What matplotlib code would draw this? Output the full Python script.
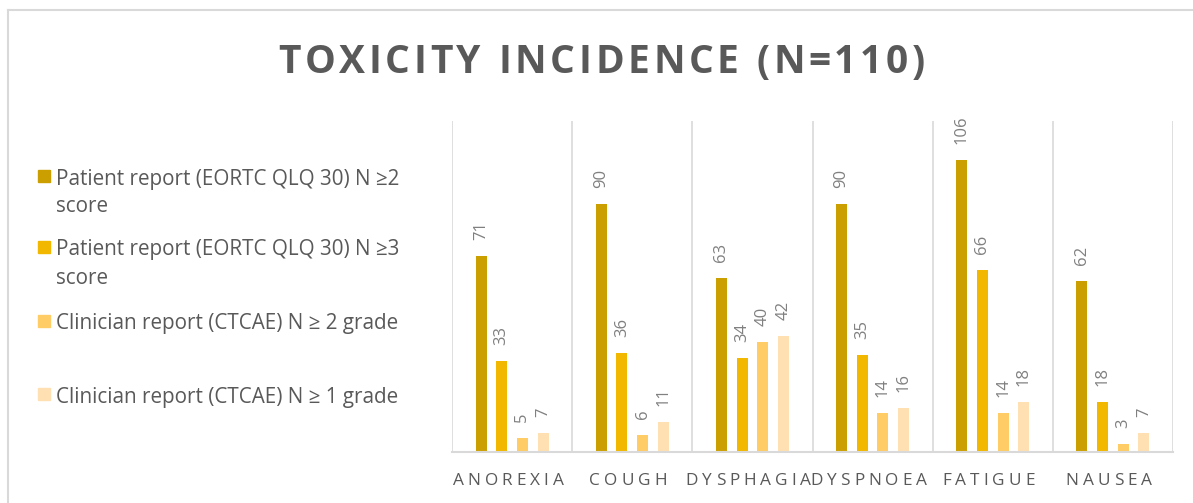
import matplotlib
matplotlib.use("Agg")
import matplotlib.pyplot as plt
from matplotlib.font_manager import FontProperties
from matplotlib.lines import Line2D
from matplotlib.patches import Rectangle
import numpy as np

# ---- data ----
categories = ["ANOREXIA", "COUGH", "DYSPHAGIA", "DYSPNOEA", "FATIGUE", "NAUSEA"]
series_names = [
    "Patient report (EORTC QLQ 30) N \u22652\nscore",
    "Patient report (EORTC QLQ 30) N \u22653\nscore",
    "Clinician report (CTCAE) N \u2265 2 grade",
    "Clinician report (CTCAE) N \u2265 1 grade",
]
patient_ge2 = [71, 90, 63, 90, 106, 62]
patient_ge3 = [33, 36, 34, 35, 66, 18]
clinician_ge2 = [5, 6, 40, 14, 14, 3]
clinician_ge1 = [7, 11, 42, 16, 18, 7]
title = "TOXICITY INCIDENCE (N=110)"

series = [patient_ge2, patient_ge3, clinician_ge2, clinician_ge1]
colors = ["#CC9F00", "#F2B800", "#FFCC66", "#FFE0B3"]

FONT = "Open Sans"
TEXT_GRAY = "#595959"
LABEL_GRAY = "#808080"
GRID = "#D9D9D9"

W, H, DPI = 1193, 503, 100
fig = plt.figure(figsize=(W / DPI, H / DPI), dpi=DPI)
fig.patch.set_facecolor("white")
renderer = fig.canvas.get_renderer()


def px(xp, yp):
    """Pixel position (from top-left) to figure fraction."""
    return xp / W, 1 - yp / H


def advance(ch, fp):
    """Horizontal advance of one character in pixels."""
    def w(s):
        return renderer.get_text_width_height_descent(s, fp, ismath=False)[0]
    return w("H" + ch + "H") - w("HH")


def spaced_text(text, center_x, baseline_y, fp, spacing, color, shift=0.0):
    """Draw text with extra letter spacing, centred on center_x (pixels)."""
    adv = [advance(ch, fp) for ch in text]
    total = sum(adv) + spacing * (len(text) - 1)
    cursor = center_x - total / 2 + shift
    for ch, a in zip(text, adv):
        if ch != " ":
            fig.text(*px(cursor, baseline_y), ch, ha="left", va="baseline",
                     fontproperties=fp, color=color)
        cursor += a + spacing


# plot area in pixel coordinates
left_px, right_px, top_px, bottom_px = 452, 1173, 121, 452
ax = fig.add_axes([left_px / W, 1 - bottom_px / H,
                   (right_px - left_px) / W, (bottom_px - top_px) / H])
ax.set_xlim(-0.5, len(categories) - 0.5)
ax.set_ylim(0, 120)
for s in ["top", "right", "left"]:
    ax.spines[s].set_visible(False)
ax.spines["bottom"].set_color(GRID)
ax.spines["bottom"].set_linewidth(1.5)
ax.set_yticks([])
ax.set_xticks([])

# vertical separators between categories
for b in np.arange(-0.5, len(categories), 1.0):
    ax.axvline(b, color=GRID, lw=1.2, zorder=0)

x = np.arange(len(categories))
step = 0.172
bw = 0.092
offsets = (np.arange(len(series)) - 1.5) * step
for vals, off, col in zip(series, offsets, colors):
    ax.bar(x + off, vals, width=bw, color=col, zorder=2)
    for xi, v in zip(x + off, vals):
        ax.annotate(str(v), (xi, v), xytext=(0, 11.5), textcoords="offset points",
                    rotation=90, ha="center", va="bottom",
                    fontsize=12, color=LABEL_GRAY, family=FONT)

# letter-spaced category labels under the axis
cat_fp = FontProperties(family=FONT, size=12.4)
for xi, name in zip(x, categories):
    cx = left_px + (xi + 0.5) / len(categories) * (right_px - left_px)
    spaced_text(name, cx, 485, cat_fp, 4.0, TEXT_GRAY, shift=-4)

# title
title_fp = FontProperties(family=FONT, size=28, weight="bold")
spaced_text(title, 601.5, 73, title_fp, 3.7, TEXT_GRAY)

# legend
leg_y = [176, 247, 321, 394]
leg_fp = FontProperties(family=FONT, size=14.9)
line_gap = 28
for name, col, yc in zip(series_names, colors, leg_y):
    fig.patches.append(Rectangle(px(38, yc + 6), 12 / W, 12 / H,
                                 transform=fig.transFigure, color=col))
    for i, line in enumerate(name.split("\n")):
        fig.text(*px(56, yc + 8.5 + i * line_gap), line, ha="left", va="baseline",
                 fontproperties=leg_fp, color=TEXT_GRAY)

# chart border
fig.lines.append(Line2D([8 / W, 8 / W], [0, 1 - 10 / H], transform=fig.transFigure,
                        color=GRID, lw=1.5))
fig.lines.append(Line2D([8 / W, 1], [1 - 10 / H, 1 - 10 / H], transform=fig.transFigure,
                        color=GRID, lw=1.5))

fig.savefig("out.png", dpi=DPI, facecolor="white")
